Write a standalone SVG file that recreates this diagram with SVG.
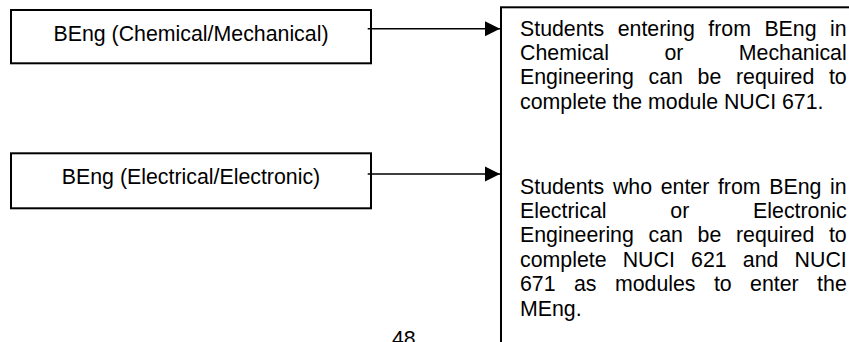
<svg xmlns="http://www.w3.org/2000/svg" width="849" height="342" viewBox="0 0 849 342">
<defs>
<style>
.box{fill:#fff;stroke:#000;stroke-width:2}
.t{font-family:"Liberation Sans",Arial,sans-serif;font-size:21.33px;fill:#000}
.c{text-anchor:middle}
.edge{stroke:#000;stroke-width:1.4;fill:none}
</style>
<marker id="arr" markerUnits="userSpaceOnUse" markerWidth="16" markerHeight="16" viewBox="0 0 16 16" refX="15" refY="8" orient="auto">
<path d="M0,0.5 L15,8 L0,15.5 Z" fill="#000"/>
</marker>
</defs>
<rect width="849" height="342" fill="#fff"/>
<g id="node-chem">
<rect class="box" x="11" y="10" width="360" height="53.3"/>
<text class="t c" x="191" y="40.5">BEng (Chemical/Mechanical)</text>
</g>
<g id="node-elec">
<rect class="box" x="11" y="153.3" width="360" height="55"/>
<text class="t c" x="191" y="184.3">BEng (Electrical/Electronic)</text>
</g>
<g id="node-info">
<rect class="box" x="501" y="7.3" width="420" height="420"/>
<text class="t" y="35.5"><tspan x="520">Students</tspan><tspan x="617.7">entering</tspan><tspan x="708.3">from</tspan><tspan x="764.4">BEng</tspan><tspan x="830.1">in</tspan></text>
<text class="t" y="59.9"><tspan x="520">Chemical</tspan><tspan x="664.4">or</tspan><tspan x="738.8">Mechanical</tspan></text>
<text class="t" y="84.3"><tspan x="520">Engineering</tspan><tspan x="648.5">can</tspan><tspan x="697.6">be</tspan><tspan x="736">required</tspan><tspan x="828.9">to</tspan></text>
<text class="t" x="520" y="108.7">complete the module NUCI 671.</text>
<text class="t" y="193.5"><tspan x="520">Students</tspan><tspan x="612.9">who</tspan><tspan x="660.7">enter</tspan><tspan x="717.9">from</tspan><tspan x="769.3">BEng</tspan><tspan x="830.1">in</tspan></text>
<text class="t" y="217.9"><tspan x="520">Electrical</tspan><tspan x="670.3">or</tspan><tspan x="753.1">Electronic</tspan></text>
<text class="t" y="242.3"><tspan x="520">Engineering</tspan><tspan x="648.5">can</tspan><tspan x="697.6">be</tspan><tspan x="736">required</tspan><tspan x="828.9">to</tspan></text>
<text class="t" y="266.7"><tspan x="520">complete</tspan><tspan x="622.7">NUCI</tspan><tspan x="691.1">621</tspan><tspan x="742.8">and</tspan><tspan x="794.6">NUCI</tspan></text>
<text class="t" y="291.1"><tspan x="520">671</tspan><tspan x="574">as</tspan><tspan x="614.9">modules</tspan><tspan x="713.9">to</tspan><tspan x="750.1">enter</tspan><tspan x="817.1">the</tspan></text>
<text class="t" x="520" y="315.5">MEng.</text>
</g>
<g id="connectors">
<line class="edge" x1="367.7" y1="28.7" x2="500" y2="28.7" marker-end="url(#arr)"/>
<line class="edge" x1="367.7" y1="174" x2="500" y2="174" marker-end="url(#arr)"/>
</g>
<text class="t" x="392" y="346.3">48</text>
</svg>
